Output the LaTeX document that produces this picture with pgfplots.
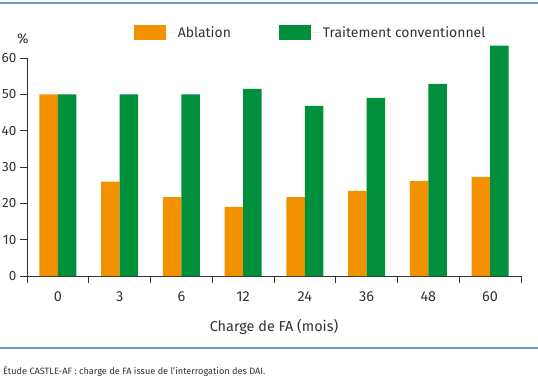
\documentclass[border=0pt]{standalone}
\usepackage{fontspec}
\setmainfont{Fira Sans}
\usepackage{pgfplots}
\pgfplotsset{compat=1.18}
\definecolor{abl}{HTML}{F39200}
\definecolor{conv}{HTML}{00903C}
\definecolor{txt}{HTML}{333333}
\definecolor{rulec}{HTML}{6C9DC0}
\begin{document}
\begin{tikzpicture}
\useasboundingbox (0,0) rectangle (538bp,384bp);
\clip (0,0) rectangle (538bp,384bp);
\fill[white] (0,0) rectangle (538bp,384bp);
\draw[rulec, line width=1.3bp] (0,381bp) -- (538bp,381bp);
\draw[rulec, line width=1.3bp] (0,36bp) -- (538bp,36bp);
\node[anchor=base west, text=txt, font=\fontsize{9.2}{11}\selectfont, inner sep=0] at (3bp,9.5bp) {Étude CASTLE-AF : charge de FA issue de l'interrogation des DAI.};
\begin{axis}[
  at={(27bp,108bp)}, anchor=south west,
  scale only axis, width=494bp, height=218bp,
  xmin=-0.5, xmax=7.5, ymin=0, ymax=60, clip=false,
  /pgf/number format/assume math mode=true,
  axis x line*=bottom, axis y line*=left,
  axis line style={draw=txt, line width=0.9bp},
  every tick/.style={draw=txt, line width=0.9bp},
  tick align=outside,
  ytick={0,10,...,60},
  major tick length=7bp,
  xtick={-0.5,0.5,...,7.5}, xticklabels={},
  extra x ticks={0,1,...,7},
  extra x tick labels={0,3,6,12,24,36,48,60},
  extra x tick style={major tick length=0pt},
  x tick label style={yshift=-12bp, font=\fontsize{14.5}{16}\selectfont},
  y tick label style={xshift=-1.5bp, inner xsep=2bp, font=\fontsize{13.5}{16}\selectfont},
  tick label style={text=txt},
  xlabel={Charge de FA (mois)},
  xlabel style={font=\fontsize{14.5}{16}\selectfont, text=txt, yshift=-4bp},
  ylabel={\%},
  ylabel style={rotate=-90, at={(rel axis cs:0,1)}, anchor=south, xshift=-4bp, yshift=11bp, font=\fontsize{14}{16}\selectfont, text=txt},
  legend columns=2,
  legend style={at={(rel axis cs:0.574,1.115)}, anchor=center, draw=none, fill=none,
    font=\fontsize{14}{16}\selectfont, text=txt,
    /tikz/every even column/.append style={column sep=46bp}},
]
\addplot[ybar, bar width=18.5bp, bar shift=-9.25bp, fill=abl, draw=none,
  legend image code/.code={\fill[abl] (0bp,-7.5bp) rectangle (32bp,7.5bp); \path (0bp,0bp) -- (42bp,0bp);}]
  coordinates {(0,50) (1,26) (2,21.7) (3,19) (4,21.7) (5,23.4) (6,26.2) (7,27.3)};
\addlegendentry{Ablation}
\addplot[ybar, bar width=18.5bp, bar shift=9.25bp, fill=conv, draw=none,
  legend image code/.code={\fill[conv] (0bp,-7.5bp) rectangle (32bp,7.5bp); \path (0bp,0bp) -- (42bp,0bp);}]
  coordinates {(0,50) (1,50) (2,50) (3,51.5) (4,46.8) (5,49) (6,52.9) (7,63.4)};
\addlegendentry{Traitement conventionnel}
\end{axis}
\end{tikzpicture}
\end{document}
